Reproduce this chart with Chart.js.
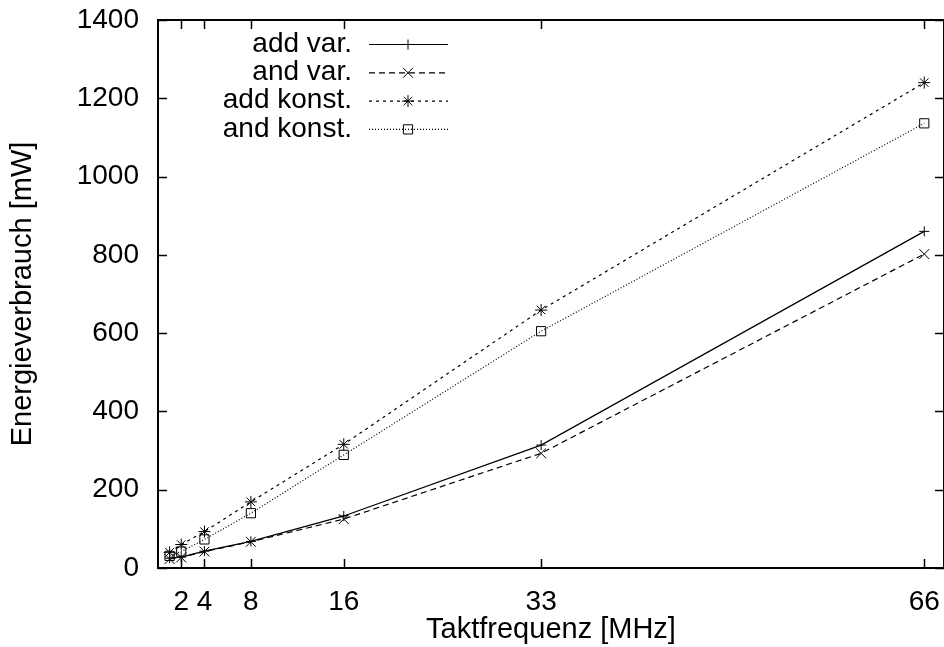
<!DOCTYPE html>
<html>
<head>
<meta charset="utf-8">
<script src="https://cdn.jsdelivr.net/npm/chart.js@4/dist/chart.umd.min.js"></script>
<style>
  html, body { margin: 0; padding: 0; background: #ffffff; overflow: hidden; }
  #wrap { width: 944px; height: 647px; }
</style>
</head>
<body>
<div id="wrap"><canvas id="c" width="944" height="647"></canvas></div>
<script>
// ---- data ----
const frequencies = [1, 2, 4, 8, 16, 33, 66];           // MHz
const xTickValues = [2, 4, 8, 16, 33, 66];
const yTickValues = [0, 200, 400, 600, 800, 1000, 1200, 1400];
const seriesLabels = ['add var.', 'and var.', 'add konst.', 'and konst.'];
const addVar   = [25, 28, 43, 68, 133, 314, 860];
const andVar   = [23, 27, 42, 67, 125, 293, 802];
const addKonst = [40, 60, 93, 169, 316, 659, 1240];
const andKonst = [31, 42, 73, 140, 289, 605, 1136];

const FONT = '"Liberation Sans", Arial, Helvetica, sans-serif';
Chart.defaults.font.family = FONT;
Chart.defaults.color = '#000';

function pts(values) { return frequencies.map((f, i) => ({ x: f, y: values[i] })); }

const styles = [
  { dash: [],     pointStyle: 'cross',    r: 5 },
  { dash: [6, 4], pointStyle: 'crossRot', r: 7 },
  { dash: [3, 4], pointStyle: 'star',     r: 6 },
  { dash: [1, 2], pointStyle: 'rect',     r: 6.5 }
];
const seriesValues = [addVar, andVar, addKonst, andKonst];

const datasets = seriesValues.map((vals, i) => ({
  label: seriesLabels[i],
  data: pts(vals),
  borderColor: '#000',
  backgroundColor: 'rgba(0,0,0,0)',
  borderWidth: 1.2,
  borderDash: styles[i].dash,
  pointStyle: styles[i].pointStyle,
  pointRadius: styles[i].r,
  pointBorderWidth: 1,
  pointBorderColor: '#000',
  pointBackgroundColor: 'rgba(0,0,0,0)',
  tension: 0,
  fill: false,
  clip: false
}));

function noPad(s) { s.paddingTop = 0; s.paddingBottom = 0; s.paddingLeft = 0; s.paddingRight = 0; }

const gnuplotFrame = {
  id: 'gnuplotFrame',
  afterDatasetsDraw(chart) {
    const { ctx, chartArea: a } = chart;
    const xs = chart.scales.x, ys = chart.scales.y;
    const TL = 9;
    ctx.save();
    ctx.setLineDash([]);
    ctx.strokeStyle = '#000';
    ctx.lineWidth = 1.5;
    ctx.beginPath();
    xs.ticks.forEach(t => {
      const px = Math.round(xs.getPixelForValue(t.value)) + 0.5;
      ctx.moveTo(px, a.bottom); ctx.lineTo(px, a.bottom - TL);
      ctx.moveTo(px, a.top);    ctx.lineTo(px, a.top + TL);
    });
    ys.ticks.forEach(t => {
      const py = Math.round(ys.getPixelForValue(t.value)) + 0.5;
      ctx.moveTo(a.left, py);  ctx.lineTo(a.left + TL, py);
      ctx.moveTo(a.right, py); ctx.lineTo(a.right - TL, py);
    });
    ctx.stroke();
    ctx.lineWidth = 2;
    ctx.strokeRect(a.left, a.top, a.right - a.left, a.bottom - a.top);
    ctx.restore();
  },
  afterDraw(chart) {
    const { ctx } = chart;
    const textRight = 352, lineL = 369, lineR = 448, mark = 408, y0 = 44, dy = 28.3;
    ctx.save();
    chart.data.datasets.forEach((ds, i) => {
      const y = y0 + i * dy;
      ctx.font = '28px ' + FONT;
      ctx.textAlign = 'right';
      ctx.textBaseline = 'middle';
      ctx.fillStyle = '#000';
      ctx.fillText(ds.label, textRight, y);
      ctx.strokeStyle = ds.borderColor;
      ctx.lineWidth = ds.borderWidth;
      ctx.setLineDash(ds.borderDash || []);
      ctx.beginPath();
      ctx.moveTo(lineL, y + 0.5); ctx.lineTo(lineR, y + 0.5);
      ctx.stroke();
      ctx.setLineDash([]);
      ctx.fillStyle = 'rgba(0,0,0,0)';
      ctx.strokeStyle = '#000';
      ctx.lineWidth = 1;
      Chart.helpers.drawPoint(ctx, {
        pointStyle: ds.pointStyle, radius: ds.pointRadius, borderWidth: 1, rotation: 0
      }, mark, y + 0.5);
    });
    ctx.restore();
  }
};

new Chart(document.getElementById('c'), {
  type: 'line',
  data: { datasets },
  options: {
    responsive: false,
    devicePixelRatio: 1,
    animation: false,
    layout: { autoPadding: false, padding: { top: 20, right: -1, left: 0, bottom: 0 } },
    plugins: { legend: { display: false }, tooltip: { enabled: false } },
    scales: {
      x: {
        type: 'linear',
        min: 0,
        max: 67.7,
        afterBuildTicks: s => { s.ticks = xTickValues.map(v => ({ value: v })); },
        afterFit: s => { s.height = 79; noPad(s); },
        grid: { display: false, drawTicks: false },
        border: { display: false },
        ticks: { font: { size: 28 }, color: '#000', padding: 17, maxRotation: 0, autoSkip: false,
                 callback: v => String(v) },
        title: { display: true, text: 'Taktfrequenz [MHz]', font: { size: 29 }, color: '#000', padding: { top: 0, bottom: 0 } }
      },
      y: {
        type: 'linear',
        min: 0,
        max: 1400,
        afterBuildTicks: s => { s.ticks = yTickValues.map(v => ({ value: v })); },
        afterFit: s => { s.width = 158; noPad(s); },
        grid: { display: false, drawTicks: false },
        border: { display: false },
        ticks: { font: { size: 28 }, color: '#000', padding: 19, callback: v => String(v) },
        title: { display: true, text: 'Energieverbrauch [mW]', font: { size: 29 }, color: '#000', padding: { top: 6, bottom: 0 } }
      }
    }
  },
  plugins: [gnuplotFrame]
});
</script>
</body>
</html>
